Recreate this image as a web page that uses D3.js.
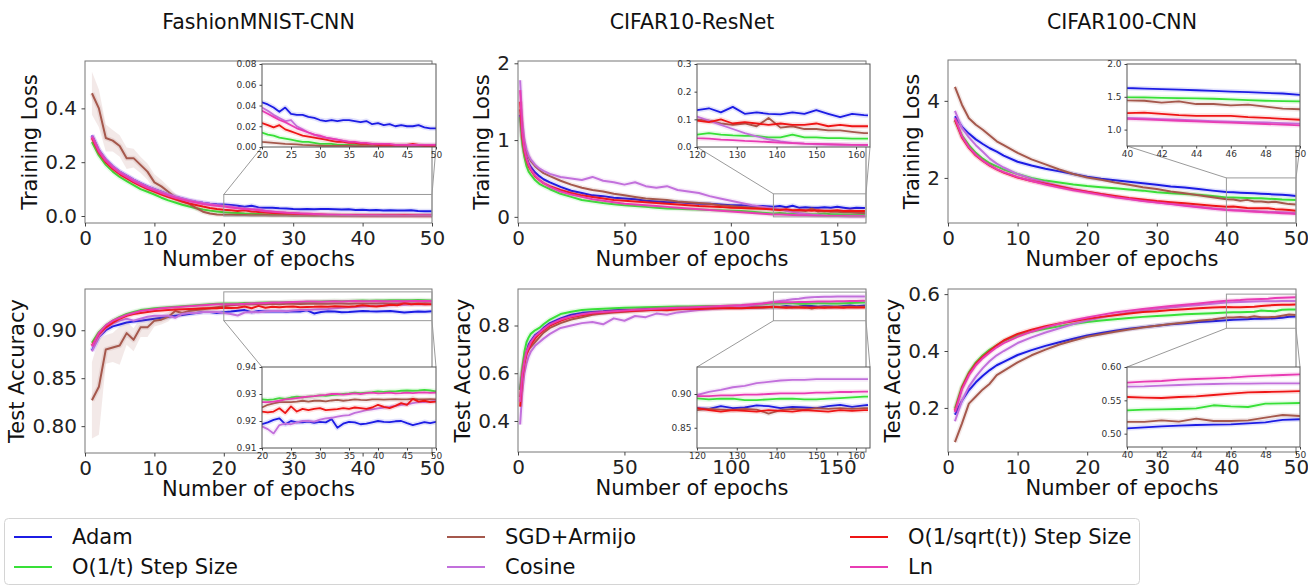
<!DOCTYPE html>
<html><head><meta charset="utf-8">
<script src="https://cdn.jsdelivr.net/npm/d3@7"></script>
<style>body{margin:0;background:#fff;}svg{display:block;font-family:"DejaVu Sans",sans-serif;}</style>
</head><body><svg id="chart" width="1308" height="586"></svg>
<script>
// ---------------- DATA ----------------
const methods = ["Adam","O(1/t) Step Size","SGD+Armijo","Cosine","O(1/sqrt(t)) Step Size","Ln"];
const legendRows = [["Adam","SGD+Armijo","O(1/sqrt(t)) Step Size"],["O(1/t) Step Size","Cosine","Ln"]];
const panelTitles = ["FashionMNIST-CNN","CIFAR10-ResNet","CIFAR100-CNN"];

const fmnistEpochs = [1,2,3,4,5,6,7,8,9,10,11,12,13,14,15,16,17,18,19,20,21,22,23,24,25,26,27,28,29,30,31,32,33,34,35,36,37,38,39,40,41,42,43,44,45,46,47,48,49,50];
const cifar10Epochs = [1,2,3,4,5,6,8,10,12,15,20,25,30,35,40,45,50,55,60,65,70,75,80,85,90,95,100,105,110,115,120,123,126,129,132,135,138,141,144,147,150,153,156,159,162,163];
const cifar100Epochs = [1,2,3,4,5,6,7,8,10,12,14,16,18,20,22,24,26,28,30,32,34,36,38,40,41,42,43,44,45,46,47,48,49,50];

// FashionMNIST - training loss
const fmnistLossAdam = [0.300,0.245,0.210,0.185,0.165,0.150,0.135,0.122,0.110,0.100,0.090,0.080,0.072,0.065,0.058,0.053,0.049,0.046,0.044,0.043,0.041,0.038,0.034,0.038,0.032,0.031,0.031,0.029,0.028,0.026,0.025,0.026,0.025,0.026,0.026,0.025,0.024,0.025,0.022,0.023,0.021,0.022,0.020,0.021,0.020,0.020,0.021,0.019,0.018,0.018];
const fmnistLossInvT = [0.275,0.225,0.190,0.165,0.145,0.130,0.115,0.100,0.090,0.080,0.068,0.058,0.050,0.042,0.035,0.029,0.024,0.020,0.017,0.014,0.012,0.011,0.009,0.008,0.007,0.006,0.005,0.005,0.004,0.003,0.003,0.003,0.002,0.002,0.002,0.002,0.002,0.002,0.001,0.001,0.001,0.001,0.001,0.001,0.001,0.001,0.001,0.001,0.001,0.001];
const fmnistLossArmijo = [0.456,0.400,0.290,0.280,0.260,0.215,0.215,0.190,0.165,0.125,0.110,0.090,0.070,0.055,0.045,0.030,0.016,0.009,0.006,0.005,0.0045,0.004,0.0035,0.003,0.0028,0.0025,0.002,0.0018,0.0015,0.0012,0.001,0.001,0.001,0.001,0.001,0.0009,0.0008,0.0008,0.0007,0.0007,0.0006,0.0006,0.0006,0.0005,0.0005,0.0005,0.0005,0.0005,0.0005,0.0005];
const fmnistLossArmijoStd = [0.08,0.07,0.05,0.04,0.04,0.04,0.035,0.03,0.03,0.03,0.025,0.02,0.015,0.012,0.01,0.008,0.005,0.003,0.002,0.001];
const fmnistLossCosine = [0.300,0.245,0.210,0.185,0.165,0.150,0.135,0.122,0.110,0.100,0.090,0.081,0.073,0.066,0.060,0.054,0.049,0.045,0.041,0.038,0.035,0.031,0.028,0.025,0.026,0.020,0.017,0.014,0.012,0.010,0.009,0.008,0.007,0.006,0.005,0.004,0.004,0.003,0.003,0.003,0.002,0.002,0.002,0.002,0.002,0.002,0.002,0.002,0.002,0.002];
const fmnistLossSqrt = [0.290,0.235,0.200,0.175,0.155,0.140,0.125,0.112,0.100,0.090,0.080,0.070,0.062,0.054,0.047,0.041,0.035,0.030,0.026,0.023,0.021,0.019,0.021,0.017,0.015,0.013,0.011,0.010,0.009,0.008,0.007,0.006,0.005,0.005,0.004,0.004,0.003,0.003,0.003,0.002,0.002,0.002,0.002,0.002,0.002,0.003,0.002,0.001,0.001,0.001];
const fmnistLossLn = [0.295,0.240,0.205,0.180,0.160,0.145,0.130,0.117,0.105,0.095,0.085,0.076,0.068,0.061,0.055,0.050,0.045,0.041,0.038,0.035,0.032,0.029,0.026,0.024,0.021,0.018,0.016,0.014,0.012,0.011,0.009,0.008,0.007,0.006,0.005,0.005,0.004,0.004,0.003,0.003,0.003,0.003,0.002,0.002,0.002,0.002,0.002,0.002,0.002,0.002];

// FashionMNIST - test accuracy
const fmnistAccAdam = [0.879,0.893,0.900,0.904,0.906,0.908,0.909,0.910,0.911,0.912,0.913,0.914,0.915,0.916,0.917,0.918,0.919,0.919,0.918,0.9188,0.9195,0.9204,0.921,0.9188,0.920,0.9195,0.9195,0.9198,0.9193,0.9197,0.9195,0.9207,0.9175,0.919,0.9197,0.9195,0.9188,0.919,0.9195,0.920,0.9197,0.9196,0.9199,0.920,0.9192,0.9185,0.919,0.9196,0.9192,0.9197];
const fmnistAccInvT = [0.887,0.898,0.905,0.910,0.914,0.917,0.919,0.921,0.922,0.923,0.9235,0.924,0.9245,0.925,0.9255,0.926,0.9265,0.927,0.9275,0.928,0.9278,0.928,0.9285,0.9282,0.9287,0.929,0.9288,0.929,0.9292,0.9295,0.9293,0.9296,0.9298,0.930,0.9302,0.9305,0.9303,0.9305,0.9307,0.931,0.9308,0.931,0.931,0.9312,0.9313,0.9312,0.9313,0.9315,0.9313,0.931];
const fmnistAccArmijo = [0.827,0.841,0.880,0.882,0.884,0.897,0.890,0.903,0.903,0.910,0.911,0.914,0.920,0.918,0.920,0.921,0.922,0.923,0.924,0.925,0.926,0.9265,0.927,0.927,0.927,0.9272,0.9275,0.9272,0.9275,0.9275,0.9273,0.9276,0.9278,0.9275,0.9277,0.928,0.9278,0.9277,0.928,0.928,0.9279,0.928,0.9281,0.928,0.928,0.9282,0.928,0.928,0.9281,0.928];
const fmnistAccArmijoStd = [0.04,0.05,0.015,0.015,0.02,0.012,0.012,0.01,0.01,0.006,0.005,0.005,0.004,0.004,0.003,0.003,0.003,0.002,0.002,0.002];
const fmnistAccCosine = [0.878,0.893,0.902,0.907,0.910,0.912,0.910,0.912,0.914,0.915,0.915,0.915,0.913,0.917,0.918,0.918,0.919,0.919,0.919,0.918,0.917,0.9154,0.9185,0.919,0.9188,0.9195,0.920,0.920,0.9198,0.9205,0.921,0.9212,0.9216,0.922,0.9222,0.923,0.9235,0.924,0.9243,0.9247,0.925,0.9252,0.9256,0.926,0.9262,0.9266,0.927,0.927,0.9272,0.9275];
const fmnistAccSqrt = [0.884,0.896,0.903,0.908,0.912,0.915,0.917,0.918,0.919,0.920,0.9205,0.921,0.9215,0.922,0.9222,0.9225,0.9228,0.923,0.923,0.9235,0.9232,0.9235,0.9247,0.9229,0.9254,0.9235,0.9245,0.924,0.9245,0.9248,0.924,0.9242,0.9244,0.9248,0.9245,0.925,0.9248,0.9245,0.925,0.926,0.9252,0.9248,0.9256,0.9266,0.926,0.9282,0.9272,0.9275,0.927,0.9272];
const fmnistAccLn = [0.883,0.897,0.905,0.910,0.913,0.916,0.918,0.920,0.921,0.922,0.923,0.9235,0.924,0.9245,0.925,0.9255,0.926,0.9265,0.927,0.927,0.927,0.9272,0.9275,0.928,0.9282,0.9285,0.9288,0.929,0.9292,0.9295,0.9297,0.930,0.930,0.9298,0.930,0.9302,0.930,0.9303,0.9305,0.9302,0.9303,0.9305,0.9302,0.9303,0.9305,0.9303,0.9305,0.9306,0.9304,0.9305];

// CIFAR10 - training loss
const cifar10LossAdam = [1.33,1.05,0.88,0.77,0.70,0.65,0.58,0.53,0.49,0.45,0.39,0.34,0.31,0.28,0.27,0.25,0.24,0.23,0.21,0.20,0.19,0.19,0.18,0.17,0.17,0.16,0.15,0.15,0.14,0.14,0.133,0.14,0.125,0.145,0.12,0.125,0.12,0.118,0.125,0.12,0.133,0.12,0.108,0.12,0.115,0.114];
const cifar10LossInvT = [1.30,0.95,0.78,0.66,0.59,0.55,0.48,0.43,0.40,0.36,0.30,0.26,0.22,0.20,0.18,0.165,0.15,0.14,0.13,0.12,0.11,0.105,0.10,0.095,0.09,0.085,0.08,0.075,0.065,0.055,0.045,0.05,0.045,0.042,0.04,0.04,0.035,0.035,0.045,0.035,0.035,0.032,0.032,0.03,0.03,0.03];
const cifar10LossArmijo = [1.40,1.10,0.95,0.85,0.78,0.73,0.66,0.61,0.57,0.53,0.47,0.42,0.38,0.35,0.33,0.30,0.28,0.26,0.24,0.23,0.22,0.20,0.19,0.18,0.17,0.15,0.14,0.13,0.12,0.11,0.10,0.095,0.085,0.08,0.085,0.075,0.105,0.07,0.075,0.065,0.065,0.06,0.06,0.055,0.05,0.05];
const cifar10LossCosine = [1.78,1.25,1.00,0.88,0.80,0.75,0.68,0.63,0.60,0.56,0.52,0.50,0.48,0.52,0.47,0.45,0.42,0.45,0.40,0.38,0.40,0.35,0.33,0.31,0.27,0.24,0.21,0.18,0.15,0.13,0.11,0.095,0.08,0.065,0.05,0.038,0.028,0.02,0.015,0.012,0.01,0.009,0.008,0.008,0.007,0.007];
const cifar10LossSqrt = [1.50,1.05,0.85,0.74,0.66,0.61,0.53,0.48,0.44,0.40,0.35,0.31,0.28,0.26,0.24,0.22,0.21,0.20,0.19,0.18,0.17,0.16,0.15,0.14,0.135,0.13,0.12,0.115,0.11,0.105,0.095,0.09,0.10,0.085,0.09,0.085,0.08,0.085,0.08,0.08,0.085,0.075,0.08,0.075,0.075,0.075];
const cifar10LossLn = [1.65,1.10,0.88,0.76,0.68,0.62,0.54,0.48,0.44,0.39,0.33,0.29,0.26,0.23,0.21,0.19,0.17,0.16,0.15,0.14,0.13,0.12,0.11,0.10,0.09,0.08,0.07,0.06,0.05,0.04,0.032,0.03,0.027,0.025,0.022,0.02,0.018,0.016,0.014,0.012,0.011,0.01,0.009,0.008,0.008,0.008];

// CIFAR10 - test accuracy
const cifar10AccAdam = [0.53,0.60,0.65,0.69,0.72,0.735,0.76,0.772,0.79,0.81,0.83,0.845,0.853,0.857,0.86,0.864,0.866,0.866,0.869,0.87,0.869,0.872,0.873,0.873,0.875,0.874,0.876,0.875,0.877,0.877,0.879,0.878,0.882,0.879,0.880,0.883,0.882,0.879,0.881,0.880,0.879,0.882,0.884,0.881,0.883,0.8837];
const cifar10AccInvT = [0.53,0.62,0.69,0.73,0.75,0.765,0.78,0.79,0.805,0.825,0.848,0.858,0.865,0.868,0.87,0.872,0.874,0.876,0.877,0.878,0.879,0.88,0.88,0.881,0.882,0.882,0.883,0.884,0.886,0.889,0.8935,0.892,0.893,0.893,0.891,0.891,0.892,0.893,0.893,0.892,0.892,0.893,0.894,0.895,0.896,0.896];
const cifar10AccArmijo = [0.50,0.60,0.65,0.68,0.70,0.71,0.73,0.75,0.77,0.79,0.81,0.825,0.835,0.845,0.85,0.855,0.858,0.861,0.864,0.866,0.868,0.869,0.871,0.872,0.873,0.874,0.875,0.876,0.876,0.877,0.876,0.878,0.877,0.876,0.878,0.877,0.871,0.876,0.878,0.877,0.879,0.878,0.879,0.878,0.879,0.879];
const cifar10AccCosine = [0.385,0.52,0.60,0.64,0.67,0.69,0.715,0.73,0.745,0.765,0.79,0.80,0.81,0.815,0.805,0.83,0.82,0.84,0.835,0.85,0.845,0.855,0.86,0.865,0.868,0.872,0.876,0.88,0.886,0.892,0.8985,0.903,0.906,0.91,0.912,0.916,0.918,0.92,0.921,0.921,0.922,0.922,0.922,0.922,0.922,0.922];
const cifar10AccSqrt = [0.46,0.58,0.64,0.68,0.70,0.72,0.745,0.765,0.78,0.80,0.82,0.835,0.843,0.85,0.855,0.858,0.86,0.862,0.864,0.866,0.864,0.868,0.87,0.869,0.871,0.872,0.873,0.872,0.874,0.875,0.879,0.876,0.874,0.876,0.875,0.874,0.876,0.875,0.874,0.876,0.875,0.874,0.876,0.875,0.876,0.876];
const cifar10AccLn = [0.48,0.59,0.65,0.69,0.71,0.73,0.755,0.77,0.785,0.805,0.825,0.838,0.847,0.853,0.857,0.86,0.863,0.866,0.868,0.87,0.872,0.874,0.876,0.878,0.88,0.882,0.884,0.886,0.889,0.892,0.897,0.897,0.898,0.898,0.899,0.899,0.9,0.901,0.901,0.901,0.902,0.902,0.903,0.903,0.9035,0.9035];

// CIFAR100 - training loss
const cifar100LossAdam = [3.60,3.33,3.15,3.00,2.88,2.77,2.68,2.58,2.42,2.32,2.24,2.17,2.10,2.03,1.98,1.94,1.90,1.86,1.82,1.78,1.75,1.71,1.67,1.634,1.625,1.617,1.61,1.60,1.59,1.58,1.57,1.56,1.55,1.53];
const cifar100LossInvT = [3.50,3.10,2.85,2.65,2.50,2.38,2.30,2.22,2.10,2.00,1.93,1.88,1.83,1.79,1.76,1.73,1.70,1.67,1.63,1.60,1.58,1.56,1.53,1.495,1.49,1.485,1.48,1.475,1.47,1.46,1.45,1.44,1.435,1.43];
const cifar100LossArmijo = [4.36,3.90,3.55,3.38,3.25,3.10,2.95,2.85,2.65,2.48,2.35,2.22,2.10,2.01,1.95,1.88,1.82,1.76,1.71,1.65,1.60,1.55,1.50,1.446,1.44,1.41,1.43,1.39,1.39,1.37,1.38,1.35,1.32,1.31];
const cifar100LossCosine = [3.74,3.30,3.05,2.85,2.68,2.50,2.37,2.27,2.10,1.98,1.88,1.79,1.71,1.64,1.58,1.52,1.46,1.41,1.37,1.33,1.29,1.25,1.21,1.18,1.17,1.16,1.15,1.14,1.13,1.12,1.115,1.11,1.10,1.09];
const cifar100LossSqrt = [3.50,3.05,2.78,2.58,2.44,2.32,2.22,2.14,2.01,1.92,1.85,1.78,1.70,1.64,1.58,1.53,1.48,1.44,1.40,1.37,1.34,1.31,1.28,1.25,1.26,1.24,1.22,1.21,1.21,1.21,1.19,1.18,1.165,1.15];
const cifar100LossLn = [3.55,3.08,2.80,2.60,2.45,2.33,2.23,2.15,2.02,1.92,1.83,1.75,1.68,1.62,1.56,1.50,1.45,1.40,1.36,1.32,1.28,1.24,1.20,1.165,1.155,1.145,1.135,1.125,1.115,1.105,1.095,1.085,1.075,1.065];

// CIFAR100 - test accuracy
const cifar100AccAdam = [0.176,0.225,0.262,0.29,0.313,0.333,0.35,0.362,0.386,0.403,0.418,0.431,0.443,0.455,0.463,0.471,0.478,0.484,0.489,0.494,0.498,0.502,0.505,0.508,0.5095,0.511,0.512,0.513,0.5135,0.514,0.5155,0.517,0.5206,0.5216];
const cifar100AccInvT = [0.198,0.275,0.325,0.36,0.385,0.405,0.42,0.435,0.455,0.468,0.478,0.487,0.495,0.502,0.507,0.512,0.516,0.52,0.523,0.526,0.529,0.531,0.533,0.535,0.536,0.5365,0.537,0.538,0.5426,0.541,0.540,0.545,0.5455,0.546];
const cifar100AccArmijo = [0.08,0.145,0.215,0.24,0.265,0.285,0.315,0.33,0.36,0.385,0.405,0.423,0.437,0.45,0.459,0.468,0.476,0.483,0.489,0.495,0.5,0.506,0.511,0.5176,0.5176,0.520,0.518,0.5225,0.519,0.519,0.520,0.524,0.528,0.5265];
const cifar100AccCosine = [0.153,0.225,0.275,0.31,0.34,0.365,0.385,0.40,0.428,0.448,0.465,0.48,0.495,0.507,0.518,0.527,0.535,0.542,0.548,0.553,0.558,0.562,0.566,0.5706,0.571,0.572,0.573,0.574,0.5745,0.575,0.5752,0.5755,0.5755,0.5755];
const cifar100AccSqrt = [0.19,0.27,0.32,0.355,0.38,0.40,0.42,0.437,0.46,0.475,0.487,0.497,0.505,0.513,0.52,0.526,0.532,0.537,0.54,0.544,0.547,0.55,0.553,0.555,0.554,0.5535,0.555,0.556,0.558,0.56,0.562,0.5625,0.563,0.5637];
const cifar100AccLn = [0.185,0.265,0.315,0.35,0.375,0.395,0.413,0.428,0.45,0.468,0.483,0.496,0.508,0.518,0.527,0.535,0.542,0.548,0.553,0.558,0.563,0.567,0.572,0.5765,0.578,0.579,0.581,0.582,0.583,0.584,0.586,0.587,0.588,0.589];

// tick values
const fmnistXTicks = [0,10,20,30,40,50];
const cifar10XTicks = [0,50,100,150];
const cifar100XTicks = [0,10,20,30,40,50];
const fmnistInsetXTicks = [20,25,30,35,40,45,50];
const cifar10InsetXTicks = [120,130,140,150,160];
const cifar100InsetXTicks = [40,42,44,46,48,50];

// ---------------- STYLE / LAYOUT ----------------
const colors = {"Adam":"#1c1ce4","O(1/t) Step Size":"#38e038","SGD+Armijo":"#a5584c","Cosine":"#c270dc","O(1/sqrt(t)) Step Size":"#ee1515","Ln":"#e83cb4"};

function S(a,b,c,d,e,f){return {"Adam":a,"O(1/t) Step Size":b,"SGD+Armijo":c,"Cosine":d,"O(1/sqrt(t)) Step Size":e,"Ln":f};}

const panels = [
 {title:panelTitles[0], ylabel:"Training Loss", xs:fmnistEpochs,
  series:S(fmnistLossAdam,fmnistLossInvT,fmnistLossArmijo,fmnistLossCosine,fmnistLossSqrt,fmnistLossLn),
  std:{"SGD+Armijo":fmnistLossArmijoStd},
  box:{l:85,r:432,t:61,b:223}, xd:[0,50], yd:[-0.026,0.576], xt:fmnistXTicks, yt:[0,0.2,0.4], yf:".1f",
  inset:{box:{l:262,r:436,t:64,b:147}, xd:[20,50], yd:[0,0.08], xt:fmnistInsetXTicks, yt:[0,0.02,0.04,0.06,0.08], yf:".2f"}},
 {title:panelTitles[1], ylabel:"Training Loss", xs:cifar10Epochs,
  series:S(cifar10LossAdam,cifar10LossInvT,cifar10LossArmijo,cifar10LossCosine,cifar10LossSqrt,cifar10LossLn), std:{},
  box:{l:518,r:866,t:61,b:223}, xd:[0,163.5], yd:[-0.08,2.03], xt:cifar10XTicks, yt:[0,1,2], yf:"d",
  inset:{box:{l:697,r:870,t:64,b:147}, xd:[120,163.5], yd:[0,0.3], xt:cifar10InsetXTicks, yt:[0,0.1,0.2,0.3], yf:".1f"}},
 {title:panelTitles[2], ylabel:"Training Loss", xs:cifar100Epochs,
  series:S(cifar100LossAdam,cifar100LossInvT,cifar100LossArmijo,cifar100LossCosine,cifar100LossSqrt,cifar100LossLn), std:{},
  box:{l:948,r:1296,t:60,b:223}, xd:[0,50], yd:[0.83,5.06], xt:cifar100XTicks, yt:[2,4], yf:"d",
  inset:{box:{l:1127,r:1300,t:64,b:146}, xd:[40,50], yd:[0.75,2.0], xt:cifar100InsetXTicks, yt:[1.0,1.5,2.0], yf:".1f"}},
 {title:null, ylabel:"Test Accuracy", xs:fmnistEpochs,
  series:S(fmnistAccAdam,fmnistAccInvT,fmnistAccArmijo,fmnistAccCosine,fmnistAccSqrt,fmnistAccLn),
  std:{"SGD+Armijo":fmnistAccArmijoStd},
  box:{l:85,r:432,t:289,b:453}, xd:[0,50], yd:[0.772,0.943], xt:fmnistXTicks, yt:[0.80,0.85,0.90], yf:".2f",
  inset:{box:{l:262,r:436,t:367,b:448}, xd:[20,50], yd:[0.91,0.94], xt:fmnistInsetXTicks, yt:[0.91,0.92,0.93,0.94], yf:".2f"}},
 {title:null, ylabel:"Test Accuracy", xs:cifar10Epochs,
  series:S(cifar10AccAdam,cifar10AccInvT,cifar10AccArmijo,cifar10AccCosine,cifar10AccSqrt,cifar10AccLn), std:{},
  box:{l:518,r:866,t:289,b:452}, xd:[0,163.5], yd:[0.27,0.953], xt:cifar10XTicks, yt:[0.4,0.6,0.8], yf:".1f",
  inset:{box:{l:697,r:870,t:367,b:448}, xd:[120,163.5], yd:[0.82,0.94], xt:cifar10InsetXTicks, yt:[0.85,0.90], yf:".2f"}},
 {title:null, ylabel:"Test Accuracy", xs:cifar100Epochs,
  series:S(cifar100AccAdam,cifar100AccInvT,cifar100AccArmijo,cifar100AccCosine,cifar100AccSqrt,cifar100AccLn), std:{},
  box:{l:948,r:1296,t:289,b:452}, xd:[0,50], yd:[0.045,0.618], xt:cifar100XTicks, yt:[0.2,0.4,0.6], yf:".1f",
  inset:{box:{l:1127,r:1300,t:367,b:447}, xd:[40,50], yd:[0.48,0.60], xt:cifar100InsetXTicks, yt:[0.50,0.55,0.60], yf:".2f"}}
];

const svg = d3.select("#chart");
let clipN = 0;

function drawSeries(g, p, x, y, lw, halo) {
  methods.forEach(m => {
    const vals = p.series[m];
    const n = Math.min(vals.length, p.xs.length);
    const pts = d3.range(n).map(i => [p.xs[i], vals[i]]);
    const sd = p.std[m];
    if (sd) {
      const bp = d3.range(Math.min(sd.length, n)).map(i => [p.xs[i], vals[i], sd[i]]);
      g.append("path").datum(bp)
        .attr("d", d3.area().x(d => x(d[0])).y0(d => y(d[1]-d[2])).y1(d => y(d[1]+d[2])))
        .attr("fill", colors[m]).attr("fill-opacity", 0.13);
    }
    const line = d3.line().x(d => x(d[0])).y(d => y(d[1]));
    g.append("path").datum(pts).attr("d", line).attr("fill","none")
      .attr("stroke", colors[m]).attr("stroke-opacity", 0.13).attr("stroke-width", halo).attr("stroke-linejoin","round");
    g.append("path").datum(pts).attr("d", line).attr("fill","none")
      .attr("stroke", colors[m]).attr("stroke-width", lw).attr("stroke-linejoin","round");
  });
}

function makeClip(b) {
  const id = "clip" + (clipN++);
  svg.append("clipPath").attr("id", id).append("rect")
    .attr("x", b.l).attr("y", b.t).attr("width", b.r - b.l).attr("height", b.b - b.t);
  return id;
}

function styleAxis(ag, fs, col) {
  ag.select(".domain").remove();
  ag.selectAll(".tick line").attr("stroke", "#444");
  ag.selectAll(".tick text").attr("font-size", fs).attr("fill", col).attr("font-family", '"DejaVu Sans",sans-serif');
}

panels.forEach(p => {
  const b = p.box;
  const x = d3.scaleLinear().domain(p.xd).range([b.l, b.r]);
  const y = d3.scaleLinear().domain(p.yd).range([b.b, b.t]);
  const cid = makeClip(b);
  const g = svg.append("g").attr("clip-path", `url(#${cid})`);
  drawSeries(g, p, x, y, 2, 5);

  // frame
  svg.append("rect").attr("x", b.l).attr("y", b.t).attr("width", b.r-b.l).attr("height", b.b-b.t)
    .attr("fill","none").attr("stroke","#777").attr("stroke-width",1);

  const ax = svg.append("g").attr("transform", `translate(0,${b.b})`)
    .call(d3.axisBottom(x).tickValues(p.xt).tickFormat(d3.format("d")).tickSize(3.5).tickPadding(4.5));
  styleAxis(ax, 20, "#222");
  const ay = svg.append("g").attr("transform", `translate(${b.l},0)`)
    .call(d3.axisLeft(y).tickValues(p.yt).tickFormat(d3.format(p.yf)).tickSize(3.5).tickPadding(4.5));
  styleAxis(ay, 20, "#222");
  let maxW = 0;
  ay.selectAll(".tick text").each(function(){ maxW = Math.max(maxW, this.getComputedTextLength()); });

  svg.append("text").attr("x", (b.l+b.r)/2).attr("y", b.b + 43).attr("text-anchor","middle")
    .attr("font-size", 21).attr("fill","#111").text("Number of epochs");
  svg.append("text").attr("transform", `translate(${b.l - 8 - maxW - 8},${(b.t+b.b)/2}) rotate(-90)`)
    .attr("text-anchor","middle").attr("font-size", 21).attr("fill","#111").text(p.ylabel);
  if (p.title) {
    svg.append("text").attr("x", (b.l+b.r)/2).attr("y", 29).attr("text-anchor","middle")
      .attr("font-size", 20.5).attr("fill","#111").text(p.title);
  }

  // indicator rectangle + connectors
  const ins = p.inset, ib = ins.box;
  const rx0 = x(ins.xd[0]), rx1 = Math.min(x(ins.xd[1]), b.r);
  const ry0 = Math.max(y(ins.yd[1]), b.t), ry1 = Math.min(y(ins.yd[0]), b.b);
  svg.append("rect").attr("x", rx0).attr("y", ry0).attr("width", rx1-rx0).attr("height", ry1-ry0)
    .attr("fill","none").attr("stroke","#9a9a9a").attr("stroke-width",1);
  const above = ib.b < ry0;
  const cy = above ? ry0 : ry1, iy = above ? ib.b : ib.t;
  [[rx0, ib.l],[rx1, ib.r]].forEach(([a, c]) => {
    svg.append("line").attr("x1", a).attr("y1", cy).attr("x2", c).attr("y2", iy)
      .attr("stroke","#9a9a9a").attr("stroke-width",1);
  });

  // inset
  const x2 = d3.scaleLinear().domain(ins.xd).range([ib.l, ib.r]);
  const y2 = d3.scaleLinear().domain(ins.yd).range([ib.b, ib.t]);
  svg.append("rect").attr("x", ib.l).attr("y", ib.t).attr("width", ib.r-ib.l).attr("height", ib.b-ib.t).attr("fill","#fff");
  const cid2 = makeClip(ib);
  const g2 = svg.append("g").attr("clip-path", `url(#${cid2})`);
  drawSeries(g2, p, x2, y2, 1.8, 5);
  svg.append("rect").attr("x", ib.l).attr("y", ib.t).attr("width", ib.r-ib.l).attr("height", ib.b-ib.t)
    .attr("fill","none").attr("stroke","#555").attr("stroke-width",1);
  const ax2 = svg.append("g").attr("transform", `translate(0,${ib.b})`)
    .call(d3.axisBottom(x2).tickValues(ins.xt).tickFormat(d3.format("d")).tickSize(2.5).tickPadding(2.5));
  styleAxis(ax2, 9, "#333");
  const ay2 = svg.append("g").attr("transform", `translate(${ib.l},0)`)
    .call(d3.axisLeft(y2).tickValues(ins.yt).tickFormat(d3.format(ins.yf)).tickSize(2.5).tickPadding(3));
  styleAxis(ay2, 9, "#333");
});

// legend
const lg = svg.append("g");
lg.append("rect").attr("x", 4.5).attr("y", 518.5).attr("width", 1135).attr("height", 66).attr("rx", 4)
  .attr("fill","#fff").attr("stroke","#d4d4d4").attr("stroke-width",1);
const colX = [14, 447, 850], rowY = [537, 567];
legendRows.forEach((row, ri) => row.forEach((m, ci) => {
  lg.append("line").attr("x1", colX[ci]).attr("x2", colX[ci]+38).attr("y1", rowY[ri]).attr("y2", rowY[ri])
    .attr("stroke", colors[m]).attr("stroke-width", 2);
  lg.append("text").attr("x", colX[ci]+58).attr("y", rowY[ri]).attr("dy","0.35em")
    .attr("font-size", 21).attr("fill","#111").text(m);
}));
</script>
</body></html>
